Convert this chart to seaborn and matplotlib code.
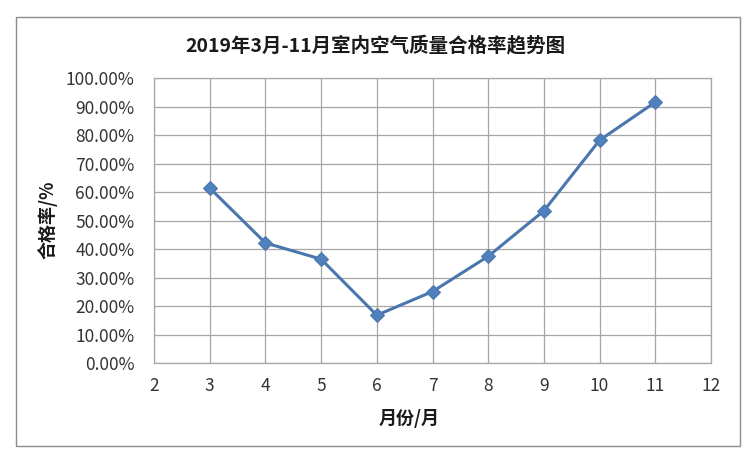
import numpy as np
import pandas as pd
import matplotlib
matplotlib.use("Agg")
import matplotlib.pyplot as plt
import seaborn as sns
from matplotlib.patches import Rectangle
from matplotlib.ticker import PercentFormatter, MultipleLocator

months = [3, 4, 5, 6, 7, 8, 9, 10, 11]
pass_rate = [61.5, 42.2, 36.5, 16.8, 25.1, 37.5, 53.5, 78.3, 91.7]

title = "2019年3月-11月室内空气质量合格率趋势图"
xlabel = "月份/月"
ylabel = "合格率/%"

sns.set_style("white")
plt.rcParams["font.family"] = ["Noto Sans CJK SC", "DejaVu Sans"]

df = pd.DataFrame({"month": months, "rate": pass_rate})

fig = plt.figure(figsize=(7.56, 4.68), dpi=100)
ax = fig.add_axes([0.2037, 0.2244, 0.7368, 0.6079])

# outer chart border like the Excel frame
fig.patches.append(Rectangle((16 / 756, 1 - 446 / 468), 724 / 756, 429 / 468,
                             transform=fig.transFigure, fill=False,
                             edgecolor="#8c8c8c", linewidth=1.0))

sns.lineplot(data=df, x="month", y="rate", ax=ax, color="#4a76ad",
             linewidth=2.2, marker="D", markersize=7,
             markeredgecolor="#4a76ad", markerfacecolor="#4f81bd")

ax.set_xlim(2, 12)
ax.set_ylim(0, 100)
ax.xaxis.set_major_locator(MultipleLocator(1))
ax.yaxis.set_major_locator(MultipleLocator(10))
ax.yaxis.set_major_formatter(PercentFormatter(decimals=2))
ax.grid(True, color="#a6a6a6", linewidth=0.9)
ax.set_axisbelow(True)
for s in ax.spines.values():
    s.set_color("#a6a6a6")
    s.set_linewidth(0.9)
ax.tick_params(axis="both", length=0, labelsize=12.5, colors="#333333")
ax.tick_params(axis="y", pad=14)
ax.tick_params(axis="x", pad=10)

ax.set_xlabel("")
ax.set_ylabel("")
fig.text(409 / 756, 1 - 418 / 468, xlabel, ha="center", va="center",
         fontsize=13, fontweight="bold", color="#1a1a1a")
fig.text(48 / 756, 1 - 220 / 468, ylabel, ha="center", va="center",
         rotation=90, fontsize=13, fontweight="bold", color="#1a1a1a")
fig.text(375 / 756, 1 - 45 / 468, title, ha="center", va="center",
         fontsize=14, fontweight="bold", color="#1a1a1a")

fig.savefig("out.png", dpi=100)
